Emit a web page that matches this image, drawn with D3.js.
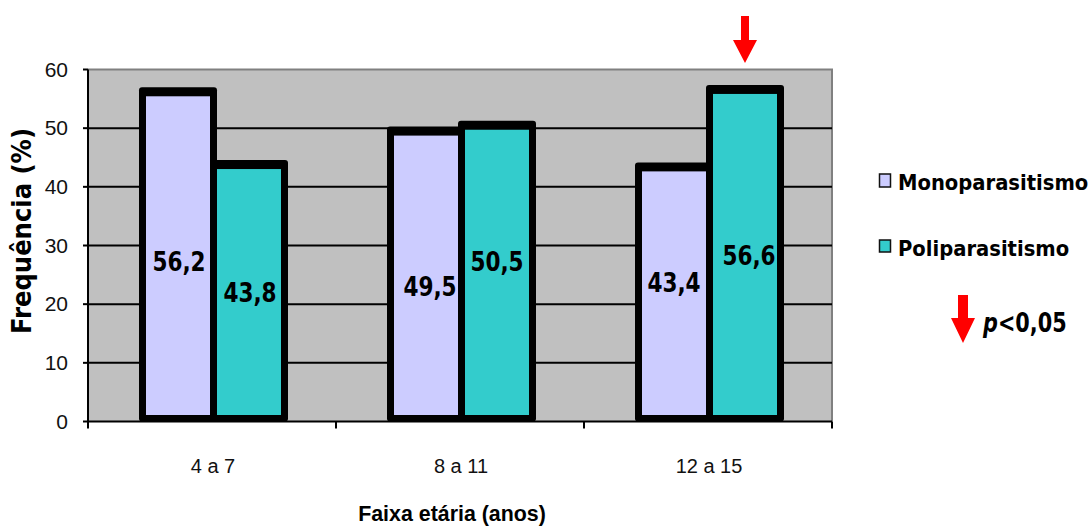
<!DOCTYPE html>
<html>
<head>
<meta charset="utf-8">
<script src="https://cdn.jsdelivr.net/npm/d3@7"></script>
<style>
  html, body { margin: 0; padding: 0; background: #ffffff; }
  svg { display: block; }
</style>
</head>
<body>
<svg id="chart" width="1092" height="526"></svg>
<script>
// ---- data ----
const categories = ["4 a 7", "8 a 11", "12 a 15"];
const seriesNames = ["Monoparasitismo", "Poliparasitismo"];
const monoValues = [56.2, 49.5, 43.4];
const poliValues = [43.8, 50.5, 56.6];
const poliSignificant = [false, false, true];
const yTickValues = [0, 10, 20, 30, 40, 50, 60];
const yTitle = "Frequência (%)";
const xTitle = "Faixa etária (anos)";
const pNote = "<0,05";

// ---- layout / style ----
const colors = ["#CCCCFF", "#33CCCC"];
const plot = { left: 88, right: 832, top: 69.5, bottom: 421.5 };
const labelShift = [ [[1, 5], [4, 10], [0, -12]], [[1, -1], [0, -12], [4, 0]] ];

const svg = d3.select("#chart");

const x = d3.scaleBand().domain(categories).range([plot.left, plot.right]).padding(0);
const y = d3.scaleLinear().domain([0, 60]).range([plot.bottom, plot.top]);
const xs = d3.scaleBand().domain([0, 1]).range([-71, 71]).padding(0);

// plot background
svg.append("rect")
  .attr("x", plot.left).attr("y", plot.top)
  .attr("width", plot.right - plot.left).attr("height", plot.bottom - plot.top)
  .attr("fill", "#C0C0C0");

// border top/right
svg.append("path")
  .attr("d", `M${plot.left},${plot.top}H${plot.right}V${plot.bottom}`)
  .attr("fill", "none").attr("stroke", "#808080").attr("stroke-width", 2);

// gridlines
svg.append("g").selectAll("line")
  .data(yTickValues.filter(v => v > 0 && v < 60))
  .join("line")
  .attr("x1", plot.left).attr("x2", plot.right)
  .attr("y1", d => y(d)).attr("y2", d => y(d))
  .attr("stroke", "#000").attr("stroke-width", 2);

// bars
const seriesData = [monoValues, poliValues];
const bars = [];
seriesData.forEach((vals, si) => {
  vals.forEach((v, ci) => {
    const c = x(categories[ci]) + x.bandwidth() / 2 + 1.5;
    bars.push({ si, ci, v, x0: c + xs(si) });
  });
});

const barG = svg.append("g");
// black outlines first
barG.selectAll("rect.outline")
  .data(bars)
  .join("rect")
  .attr("class", "outline")
  .attr("x", d => d.x0 - 3.5)
  .attr("y", d => y(d.v) - 4.5)
  .attr("width", xs.bandwidth() + 7)
  .attr("height", d => plot.bottom - (y(d.v) - 4.5))
  .attr("rx", 3).attr("ry", 3)
  .attr("fill", "#000");
// fills
barG.selectAll("rect.fill")
  .data(bars)
  .join("rect")
  .attr("class", "fill")
  .attr("x", d => d.x0 + 3.5)
  .attr("y", d => y(d.v) + 4.5)
  .attr("width", xs.bandwidth() - 7)
  .attr("height", d => (plot.bottom - 6.5) - (y(d.v) + 4.5))
  .attr("fill", d => colors[d.si]);

// data labels
barG.selectAll("text.lbl")
  .data(bars)
  .join("text")
  .attr("class", "lbl")
  .attr("transform", d => {
    const sh = labelShift[d.si][d.ci];
    const cx = d.x0 + xs.bandwidth() / 2 + sh[0];
    const by = (y(d.v) + plot.bottom) / 2 + 9.5 + sh[1];
    return `translate(${cx},${by}) scale(0.83,1)`;
  })
  .attr("text-anchor", "middle")
  .attr("font-family", "'DejaVu Sans', sans-serif")
  .attr("font-weight", "bold")
  .attr("font-size", 26)
  .attr("fill", "#000")
  .text(d => d.v.toFixed(1).replace(".", ","));

// y axis
const yAxisG = svg.append("g");
yAxisG.append("line")
  .attr("x1", plot.left).attr("x2", plot.left)
  .attr("y1", plot.top).attr("y2", plot.bottom)
  .attr("stroke", "#000").attr("stroke-width", 2);
yAxisG.selectAll("line.tick")
  .data(yTickValues)
  .join("line")
  .attr("class", "tick")
  .attr("x1", plot.left - 5).attr("x2", plot.left)
  .attr("y1", d => y(d)).attr("y2", d => y(d))
  .attr("stroke", "#000").attr("stroke-width", 2);
yAxisG.selectAll("text")
  .data(yTickValues)
  .join("text")
  .attr("x", plot.left - 20)
  .attr("y", d => y(d) + 7)
  .attr("text-anchor", "end")
  .attr("font-family", "'Liberation Sans', Arial, sans-serif")
  .attr("font-size", 21)
  .attr("fill", "#111")
  .text(d => d);

// x axis
const xAxisG = svg.append("g");
xAxisG.append("line")
  .attr("x1", plot.left).attr("x2", plot.right)
  .attr("y1", plot.bottom).attr("y2", plot.bottom)
  .attr("stroke", "#000").attr("stroke-width", 2);
const boundaries = categories.map(c => x(c)).concat([x(categories[categories.length - 1]) + x.bandwidth()]);
xAxisG.selectAll("line.tick")
  .data(boundaries)
  .join("line")
  .attr("class", "tick")
  .attr("x1", d => d).attr("x2", d => d)
  .attr("y1", plot.bottom).attr("y2", plot.bottom + 7)
  .attr("stroke", "#000").attr("stroke-width", 2);
xAxisG.selectAll("text")
  .data(categories)
  .join("text")
  .attr("x", d => x(d) + x.bandwidth() / 2 + 1)
  .attr("y", 473)
  .attr("text-anchor", "middle")
  .attr("font-family", "'Liberation Sans', Arial, sans-serif")
  .attr("font-size", 20)
  .attr("fill", "#111")
  .text(d => d);

// axis titles
svg.append("text")
  .attr("transform", `translate(452,521) scale(0.93,1)`)
  .attr("text-anchor", "middle")
  .attr("font-family", "'Liberation Sans', Arial, sans-serif")
  .attr("font-weight", "bold")
  .attr("font-size", 23)
  .attr("fill", "#000")
  .text(xTitle);

svg.append("text")
  .attr("transform", `translate(31,231) rotate(-90) scale(0.9,1)`)
  .attr("text-anchor", "middle")
  .attr("font-family", "'DejaVu Sans', sans-serif")
  .attr("font-weight", "bold")
  .attr("font-size", 27)
  .attr("fill", "#000")
  .text(yTitle);

// significance arrow above bar
function arrowPath(cx, yTop, shaftW, shaftLen, headW, headLen) {
  return `M${cx - shaftW / 2},${yTop}H${cx + shaftW / 2}V${yTop + shaftLen}` +
         `H${cx + headW / 2}L${cx},${yTop + shaftLen + headLen}L${cx - headW / 2},${yTop + shaftLen}` +
         `H${cx - shaftW / 2}Z`;
}
bars.filter(d => d.si === 1 && poliSignificant[d.ci]).forEach(d => {
  const cx = d.x0 + xs.bandwidth() / 2;
  svg.append("path")
    .attr("d", arrowPath(cx, 16, 8, 24, 24, 23))
    .attr("fill", "#FF0000");
});

// legend
const legendRows = [
  { name: seriesNames[0], color: colors[0], sqY: 174, sqH: 13, base: 190 },
  { name: seriesNames[1], color: colors[1], sqY: 240, sqH: 12, base: 256 }
];
const lg = svg.append("g");
legendRows.forEach(r => {
  lg.append("rect")
    .attr("x", 879.5).attr("y", r.sqY)
    .attr("width", 11).attr("height", r.sqH)
    .attr("fill", r.color).attr("stroke", "#111").attr("stroke-width", 1.5);
  lg.append("text")
    .attr("transform", `translate(898,${r.base}) scale(0.89,1)`)
    .attr("font-family", "'DejaVu Sans', sans-serif")
    .attr("font-weight", "bold")
    .attr("font-size", 22)
    .attr("fill", "#000")
    .text(r.name);
});

// p-value note
lg.append("path")
  .attr("d", arrowPath(963, 295, 10, 23, 24, 25))
  .attr("fill", "#FF0000");
const pt = lg.append("text")
  .attr("transform", `translate(983,332) scale(0.8,1)`)
  .attr("font-family", "'DejaVu Sans', sans-serif")
  .attr("font-weight", "bold")
  .attr("font-size", 26)
  .attr("fill", "#000");
pt.append("tspan").attr("font-style", "italic").text("p");
pt.append("tspan").text(pNote);
</script>
</body>
</html>
